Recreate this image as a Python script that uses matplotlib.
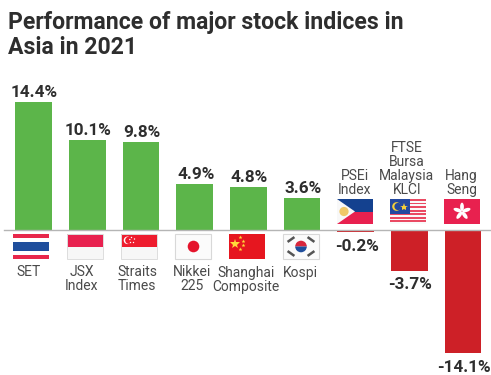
import matplotlib
matplotlib.use("Agg")
import matplotlib.pyplot as plt
import numpy as np
from matplotlib.patches import Rectangle, Circle, Polygon, Ellipse, Wedge

plt.rcParams['font.family'] = ['Roboto', 'DejaVu Sans']

indices = ["SET", "JSX\nIndex", "Straits\nTimes", "Nikkei\n225", "Shanghai\nComposite",
           "Kospi", "PSEi\nIndex", "FTSE\nBursa\nMalaysia\nKLCI", "Hang\nSeng"]
perf = [14.4, 10.1, 9.8, 4.9, 4.8, 3.6, -0.2, -3.7, -14.1]
# bar lengths as drawn in the picture (the graphic is not quite to scale)
bar_len = [14.4, 10.1, 9.9, 5.13, 4.87, 3.63, -0.28, -4.57, -13.85]
flags = ["th", "id", "sg", "jp", "cn", "kr", "ph", "my", "hk"]

GREEN = "#5cb54a"
RED = "#cd2027"
TEXT = "#2e2e2e"
LABEL = "#4a4a4a"

fig = plt.figure(figsize=(4.91, 3.75), dpi=100)

# main axes fills the figure, scaled so baseline lands at y=230px
ax = fig.add_axes([0, 0, 1, 1])
ax.set_xlim(-33.5 / 53.7, (491 - 33.5) / 53.7)
ax.set_ylim(-(375 - 230) / 8.9, 230 / 8.9)
ax.axis("off")

for i, v in enumerate(bar_len):
    ax.bar(i, v, width=0.685, color=GREEN if v > 0 else RED, zorder=2)
ax.axhline(0.05, xmin=4 / 491, color="#b5b5b5", lw=1.0, zorder=3)

# pixel overlay for flags
px = fig.add_axes([0, 0, 1, 1])
px.set_xlim(0, 491)
px.set_ylim(375, 0)
px.axis("off")
px.patch.set_alpha(0)


def rect(x, y, w, h, c, z=4):
    px.add_patch(Rectangle((x, y), w, h, fc=c, ec="none", zorder=z))


def draw_flag(code, x, y, w=36, h=25):
    if code == "th":
        rect(x, y, w, h, "#e8274b")
        rect(x, y + h * 0.17, w, h * 0.66, "white")
        rect(x, y + h * 0.33, w, h * 0.34, "#1f4e9c")
    elif code == "id":
        rect(x, y, w, h / 2, "#e8214f")
        rect(x, y + h / 2, w, h / 2, "#f7f7f7")
        px.add_patch(Rectangle((x, y), w, h, fc="none", ec="#dddddd", lw=0.7, zorder=5))
    elif code == "sg":
        rect(x, y, w, h / 2, "#ee1c2e")
        rect(x, y + h / 2, w, h / 2, "#f7f7f7")
        px.add_patch(Rectangle((x, y), w, h, fc="none", ec="#dddddd", lw=0.7, zorder=5))
        px.add_patch(Circle((x + 6, y + 6.3), 3.8, fc="white", zorder=5))
        px.add_patch(Circle((x + 7.3, y + 6.3), 3.6, fc="#ee1c2e", zorder=5))
        for dx, dy in [(10, 3.5), (13, 5), (12, 8.5), (9, 8.5), (8.3, 5.5)]:
            px.add_patch(Circle((x + dx, y + dy), 0.7, fc="white", zorder=6))
    elif code == "jp":
        rect(x, y, w, h, "#fbfbfb")
        px.add_patch(Rectangle((x, y), w, h, fc="none", ec="#d8d8d8", lw=0.8, zorder=5))
        px.add_patch(Circle((x + w / 2, y + h / 2), 5.8, fc="#e5142c", zorder=5))
    elif code == "cn":
        rect(x, y, w, h, "#e6161f")
        px.plot([x + 6], [y + 9.5], marker="*", ms=7, color="#ffdc3a", mew=0, zorder=5)
        for dx, dy in [(11.5, 3), (14, 6.5), (14, 11), (11.5, 15)]:
            px.plot([x + dx], [y + dy], marker="*", ms=3, color="#ffdc3a", zorder=5, mew=0)
    elif code == "kr":
        rect(x, y, w, h, "#fbfbfb")
        px.add_patch(Rectangle((x, y), w, h, fc="none", ec="#d8d8d8", lw=0.8, zorder=5))
        cx, cy = x + w / 2, y + h / 2
        px.add_patch(Wedge((cx, cy), 5.8, 180, 360, fc="#d8263c", zorder=5))
        px.add_patch(Wedge((cx, cy), 5.8, 0, 180, fc="#1f4e9c", zorder=5))
        for dx, dy in [(-10, -7), (10, -7), (-10, 7), (10, 7)]:
            s = -1 if dx * dy > 0 else 1
            px.plot([cx + dx - 2.4 * s, cx + dx + 2.4 * s], [cy + dy - 1.7, cy + dy + 1.7],
                    color="#555555", lw=1.8, zorder=5)
    elif code == "ph":
        rect(x, y, w, h / 2, "#14418f")
        rect(x, y + h / 2, w, h / 2, "#e8214f")
        px.add_patch(Polygon([(x, y), (x + 18, y + h / 2), (x, y + h)], fc="#f8f8f8", ec="none", zorder=5))
        px.add_patch(Circle((x + 7, y + h / 2), 4.6, fc="#f0c868", zorder=6))
    elif code == "my":
        rect(x, y, w, h, "#fafafa")
        for k in range(7):
            rect(x, y + k * h / 7, w, h / 14, "#ea4a63", z=4)
        rect(x, y, w * 0.56, h * 0.6, "#23489f", z=5)
        px.add_patch(Circle((x + 6.5, y + 7.5), 4.3, fc="#f5cf3a", zorder=6))
        px.add_patch(Circle((x + 8, y + 7.5), 3.6, fc="#23489f", zorder=6))
        px.plot([x + 14], [y + 7.5], marker="*", ms=6, color="#f5cf3a", mew=0, zorder=6)
    elif code == "hk":
        rect(x, y, w, h, "#e8214f")
        cx, cy = x + w / 2, y + h / 2
        for ang in [0, 72, 144, 216, 288]:
            t = np.deg2rad(ang - 90)
            px.add_patch(Ellipse((cx + 4.6 * np.cos(t), cy + 4.6 * np.sin(t)), 3.8, 8.5,
                                 angle=ang, fc="white", ec="none", zorder=5))


# flag positions, value and category labels
left_px = [13.5, 67.5, 121.5, 175.5, 229, 283, 337, 390, 444]
label_px = [28.7, 82, 137, 192, 246, 300, 355, 406.7, 461.7]
for i, (code, lx) in enumerate(zip(flags, left_px)):
    draw_flag(code, lx, 234 if perf[i] > 0 else 199)

for i, (v, h, lab, lp) in enumerate(zip(perf, bar_len, indices, label_px)):
    if v > 0:
        ax.text(i + 0.02, h + 0.55, f"{v:.1f}%", ha="center", va="baseline", fontsize=12.3,
                fontweight="bold", color=TEXT, zorder=6)
        px.text(lp, 265.5, lab, ha="center", va="top", fontsize=10, color=LABEL,
                linespacing=1.0, zorder=7)
    else:
        ax.text(i + 0.02, h - 2.1, f"{v:.1f}%", ha="center", va="baseline",
                fontsize=12.3, fontweight="bold", color=TEXT, zorder=6)
        px.text(lp, 194, lab, ha="center", va="baseline", fontsize=10, color=LABEL,
                linespacing=1.0, zorder=7)

fig.text(8 / 491, 1 - 29 / 375, "Performance of major stock indices in",
         fontsize=16.6, fontweight="bold", color=TEXT, va="baseline")
fig.text(8 / 491, 1 - 54 / 375, "Asia in 2021",
         fontsize=16.6, fontweight="bold", color=TEXT, va="baseline")
px.set_zorder(5)
ax.set_zorder(1)

fig.savefig("out.png", dpi=100)
